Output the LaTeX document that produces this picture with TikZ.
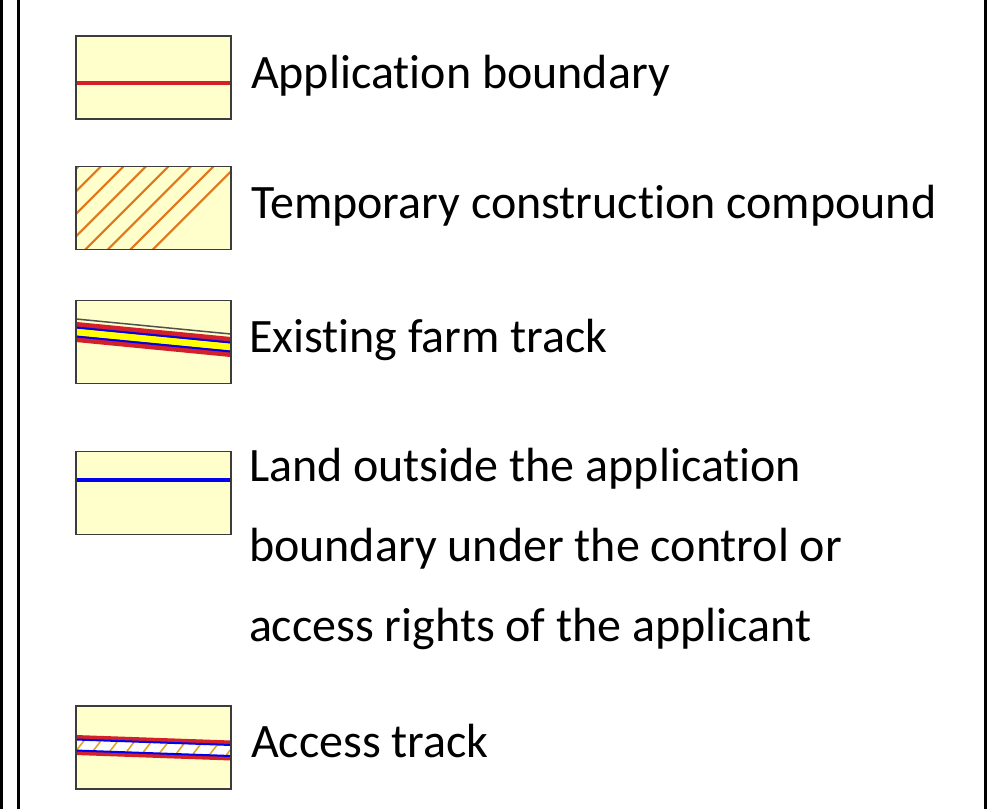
\documentclass[tikz,border=0pt]{standalone}
\usepackage{fontspec}
\setmainfont{Carlito}[RawFeature={-liga}]
\definecolor{swfill}{HTML}{FFFFCC}
\definecolor{swedge}{HTML}{3C3C3C}
\definecolor{bred}{HTML}{D4202A}
\definecolor{bblue}{HTML}{0000F0}
\definecolor{hatchor}{HTML}{E2761B}
\definecolor{hatchgold}{HTML}{E6A520}
\definecolor{tyellow}{HTML}{FFFF00}
\definecolor{edgegray}{HTML}{505050}
\begin{document}
\begin{tikzpicture}[x=1pt,y=-1pt,
  swatch/.style={fill=swfill, minimum width=155pt, minimum height=83pt, inner sep=0pt, outer sep=0pt},
  swedgeline/.style={draw=swedge, line width=1.3pt},
  legtext/.style={anchor=base west, inner sep=0pt, outer sep=0pt, font=\fontsize{48}{80}\selectfont, text=black},
  frameline/.style={line width=3pt, black}]
\useasboundingbox (0,0) rectangle (987,809);
\fill[white] (0,0) rectangle (987,809);
% frame
\draw[frameline] (1.5,0) -- (1.5,809);
\draw[frameline] (18,0) -- (18,809);
\draw[frameline] (985.5,0) -- (985.5,809);

% swatches
\node[swatch] (s1) at (153.5,77.5) {};
\node[swatch] (s2) at (153.5,208) {};
\node[swatch] (s3) at (153.5,342) {};
\node[swatch] (s4) at (153.5,493) {};
\node[swatch] (s5) at (153.5,747.5) {};

% 1: application boundary
\draw[bred, line width=4pt] (s1.west |- 0,83) -- (s1.east |- 0,83);

% 2: hatched compound
\begin{scope}
  \clip (s2.south west) rectangle (s2.north east);
  \foreach \k in {-4,...,7}{
    \draw[hatchor, line width=2.2pt] ({78.3+22.5*\k},166.5) -- ({78.3+22.5*\k-84},250.5);
  }
\end{scope}

% 3: existing farm track
\begin{scope}
  \clip (s3.south west) rectangle (s3.north east);
  \draw[bred, line width=20pt] (70,331.4) -- (237,347.6);
  \draw[tyellow, line width=7pt] (70,331.4) -- (237,347.6);
  \draw[bblue, line width=2pt] (70,326.9) -- (237,343.1);
  \draw[bblue, line width=2pt] (70,335.9) -- (237,352.1);
  \draw[edgegray, line width=1.5pt] (70,318.4) -- (237,334.6);
\end{scope}

% 4: land under control
\draw[bblue, line width=4pt] (s4.west |- 0,480.3) -- (s4.east |- 0,480.3);

% 5: access track
\begin{scope}
  \clip (s5.south west) rectangle (s5.north east);
  \draw[bred, line width=20pt] (70,744.8) -- (237,750.7);
  \draw[white, line width=10pt] (70,744.8) -- (237,750.7);
  \foreach \k in {-1,...,9}{
    \pgfmathsetmacro{\xc}{80.5+16.6*\k}
    \pgfmathsetmacro{\yc}{745+(\xc-76)*0.0355}
    \draw[hatchgold, line width=1.6pt] ({\xc-3.5},{\yc+4.5}) -- ({\xc+3.5},{\yc-4.5});
  }
  \draw[bblue, line width=2pt] (70,739.3) -- (237,745.2);
  \draw[bblue, line width=2pt] (70,750.3) -- (237,756.2);
\end{scope}

% swatch borders
\foreach \s in {s1,s2,s3,s4,s5}{
  \draw[swedgeline] (\s.south west) rectangle (\s.north east);
}

% labels
\node[legtext] (t1) at (251,88) {Application boundary};
\node[legtext] (t2) at (251,218.5) {Temporary construction compound};
\node[legtext] (t3) at (249,352) {Existing farm track};
\node[legtext] (t4a) at (249,481) {Land outside the application};
\node[legtext] (t4b) at (249,561) {boundary under the control or};
\node[legtext] (t4c) at (249,641) {access rights of the applicant};
\node[legtext] (t5) at (251,757.5) {Access track};
\end{tikzpicture}
\end{document}
